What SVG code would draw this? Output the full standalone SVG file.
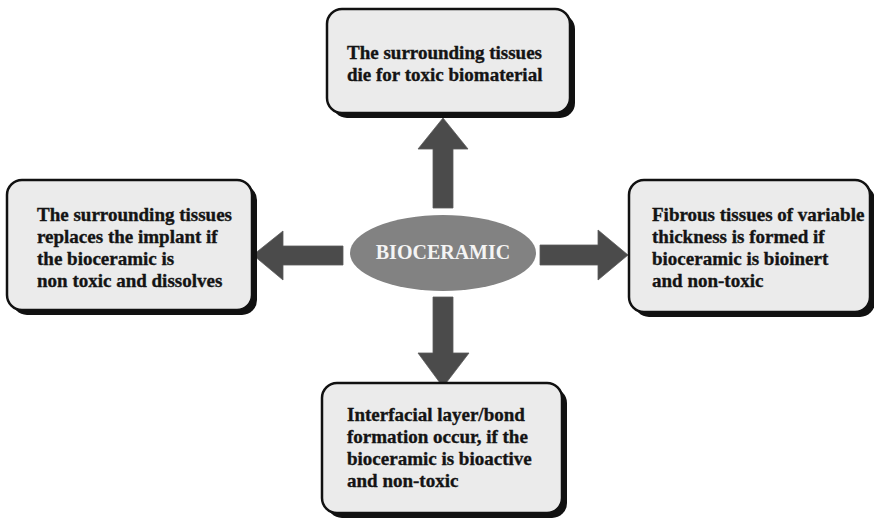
<svg xmlns="http://www.w3.org/2000/svg" width="874" height="519" viewBox="0 0 874 519">
  <style>
    .shadow { fill: #111; }
    .box { fill: #ebebeb; stroke: #111; stroke-width: 2.5; }
    .label { font-family: "Liberation Serif", "Times New Roman", serif; font-weight: bold; font-size: 19px; fill: #141414; stroke: #141414; stroke-width: 0.35; }
    .arrow { fill: #4b4b4b; stroke: #5a5a5a; stroke-width: 0.8; }
    .hub { fill: #828282; }
    .hub-text { font-family: "Liberation Serif", "Times New Roman", serif; font-weight: bold; font-size: 20px; fill: #f4f4f4; text-anchor: middle; }
  </style>
  <rect width="874" height="519" fill="#ffffff"/>

  <!-- block arrows radiating from the central ellipse -->
  <g id="connectors">
    <polygon class="arrow" points="433,208 433,149 418,149 443,118 468,149 453,149 453,208"/>
    <polygon class="arrow" points="343,246 283,246 283,231 253,255 283,280 283,265 343,265"/>
    <polygon class="arrow" points="540,245 598,245 598,230 628,255 598,280 598,265 540,265"/>
    <polygon class="arrow" points="433,297 433,353 418,353 443,387 469,353 453,353 453,297"/>
  </g>

  <g id="hub">
    <ellipse class="hub" cx="443" cy="253" rx="93" ry="38"/>
    <text class="hub-text" x="443" y="259">BIOCERAMIC</text>
  </g>

  <g id="top">
    <rect class="shadow" x="332" y="14" width="243" height="104" rx="15"/>
    <rect class="box" x="327" y="9" width="243" height="104" rx="15"/>
    <text class="label" x="347" y="59">The surrounding tissues</text>
    <text class="label" x="347" y="81">die for toxic biomaterial</text>
  </g>

  <g id="left">
    <rect class="shadow" x="12" y="185" width="245" height="130" rx="15"/>
    <rect class="box" x="7" y="180" width="245" height="130" rx="15"/>
    <text class="label" x="37" y="221">The surrounding tissues</text>
    <text class="label" x="37" y="243">replaces the implant if</text>
    <text class="label" x="37" y="265">the bioceramic is</text>
    <text class="label" x="37" y="287">non toxic and dissolves</text>
  </g>

  <g id="right">
    <rect class="shadow" x="634" y="185" width="241" height="132" rx="15"/>
    <rect class="box" x="629" y="180" width="241" height="132" rx="15"/>
    <text class="label" x="652" y="221">Fibrous tissues of variable</text>
    <text class="label" x="652" y="243">thickness is formed if</text>
    <text class="label" x="652" y="265">bioceramic is bioinert</text>
    <text class="label" x="652" y="287">and non-toxic</text>
  </g>

  <g id="bottom">
    <rect class="shadow" x="327" y="388" width="240" height="130" rx="15"/>
    <rect class="box" x="322" y="383" width="240" height="130" rx="15"/>
    <text class="label" x="347" y="421">Interfacial layer/bond</text>
    <text class="label" x="347" y="443">formation occur, if the</text>
    <text class="label" x="347" y="465">bioceramic is bioactive</text>
    <text class="label" x="347" y="487">and non-toxic</text>
  </g>
</svg>
